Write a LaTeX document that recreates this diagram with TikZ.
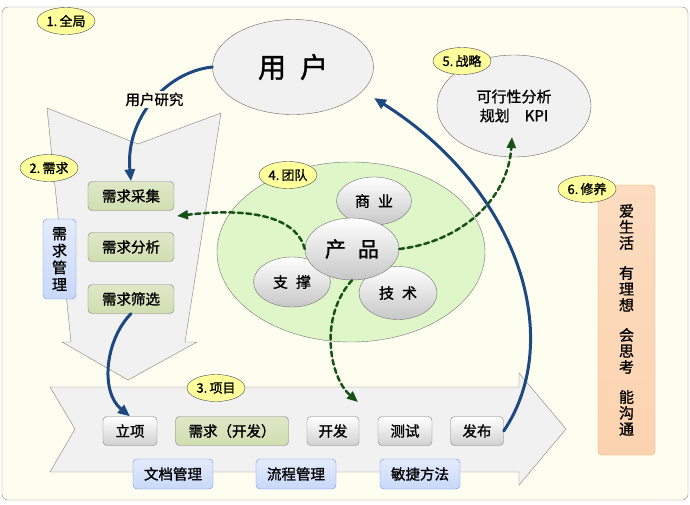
\documentclass[tikz,border=0pt]{standalone}
\usepackage{fontspec}
\setmainfont{Noto Sans CJK SC}[FakeBold=1.2]
\usetikzlibrary{arrows.meta,shapes.geometric,positioning}
\definecolor{panelcream}{RGB}{254,254,240}
\definecolor{panelgray}{RGB}{241,241,241}
\definecolor{flowblue}{RGB}{30,72,128}
\definecolor{teamgreen}{RGB}{22,82,22}
\definecolor{tagyellow}{RGB}{255,255,155}
\definecolor{boxgreen}{RGB}{208,222,176}
\definecolor{boxblue}{RGB}{200,216,250}
\definecolor{edgeblue}{RGB}{110,145,220}
\definecolor{boxorange}{RGB}{252,211,176}
\definecolor{edgeorange}{RGB}{240,160,100}
\definecolor{circlegreen}{RGB}{222,246,200}

\begin{document}
\begin{tikzpicture}[x=1pt,y=-1pt,line cap=round,line join=round,
 tag/.style={ellipse,draw=black!70,fill=tagyellow,minimum width=58pt,
  minimum height=27pt,inner sep=0pt,font=\fontsize{13}{15}\selectfont},
 graybox/.style={rectangle,rounded corners=4pt,draw=black!50,top color=white,
  bottom color=black!18,minimum height=29pt,inner sep=0pt,
  font=\fontsize{14.5}{16}\selectfont},
 greenbox/.style={graybox,top color=boxgreen!70!white,bottom color=boxgreen},
 bluebox/.style={graybox,draw=edgeblue,top color=boxblue!50,bottom color=boxblue,
  minimum width=80pt,minimum height=30pt},
 blob/.style={ellipse,draw=black!55,top color=white,bottom color=black!22,
  inner sep=0pt,font=\fontsize{15}{17}\selectfont},
 flow/.style={flowblue,line width=3pt,-{Triangle[length=12pt,width=10pt]}},
 teamlink/.style={teamgreen,line width=2.5pt,dash pattern=on 5pt off 3.5pt,
  -{Triangle[length=11pt,width=9pt]}}]
 \useasboundingbox (0,0) rectangle (690,504);
 \filldraw[rounded corners=6pt,fill=panelcream,draw=black!45] (2,7) rectangle (688,500);
 \filldraw[fill=panelgray,draw=black!50]
  (47,108)--(138,144)--(221,113)--(185,342)--(197,342)--(128,380)
  --(62,342)--(71,342)--cycle;
 \filldraw[fill=panelgray,draw=black!50]
  (50,387)--(519,387)--(519,373)--(566,429)--(519,485)--(519,472)
  --(50,472)--(75,429)--cycle;
 \node[ellipse,draw=black!55,fill=circlegreen,minimum width=268pt,
  minimum height=180pt] (team) at (351,252) {};

 \node[ellipse,draw=black!60,fill=panelgray,minimum width=161pt,minimum height=95pt,
  font=\fontsize{28}{30}\selectfont] (user) at (293,67) {用\hspace{14pt}户};
 \node[ellipse,draw=black!60,fill=panelgray,minimum width=154pt,minimum height=102pt,
  align=center,font=\fontsize{15}{19}\selectfont] (strategy) at (514,106)
  {可行性分析\\规划\hspace{1em}KPI};

 \node[greenbox,minimum width=86pt] (caiji) at (131,196) {需求采集};
 \node[greenbox,minimum width=86pt] (fenxi) at (131,247) {需求分析};
 \node[greenbox,minimum width=86pt] (shaixuan) at (131,299) {需求筛选};
 \node[bluebox,minimum width=33pt,minimum height=80pt,align=center,
  font=\fontsize{15}{17}\selectfont] (guanli) at (59.5,259) {需\\求\\管\\理};

 \node[blob,minimum width=75pt,minimum height=48pt] (shangye) at (374,201) {商\hspace{8pt}业};
 \node[blob,minimum width=77pt,minimum height=50pt] (zhicheng) at (292,282) {支\hspace{8pt}撑};
 \node[blob,minimum width=78pt,minimum height=53pt] (jishu) at (398,293) {技\hspace{8pt}术};
 \node[blob,minimum width=94pt,minimum height=62pt,
  font=\fontsize{21}{23}\selectfont] (chanpin) at (352,249) {产\hspace{12pt}品};

 \node[graybox,minimum width=54pt] (lixiang) at (130,431) {立项};
 \node[greenbox,minimum width=113pt] (xuqiu) at (232,431) {需求（开发）};
 \node[graybox,minimum width=52pt] (kaifa) at (333,431) {开发};
 \node[graybox,minimum width=54pt] (ceshi) at (405,431) {测试};
 \node[graybox,minimum width=53pt] (fabu) at (477,431) {发布};
 \node[bluebox] (wendang) at (173,474) {文档管理};
 \node[bluebox] (liucheng) at (296,474) {流程管理};
 \node[bluebox] (minjie) at (420,474) {敏捷方法};

 \node[graybox,draw=edgeorange,top color=boxorange!80,bottom color=boxorange,
  minimum width=57pt,minimum height=270pt,align=center,
  font=\fontsize{15}{16}\selectfont] (xiuyang) at (626.5,320)
  {爱\\生\\活\\[14pt]有\\理\\想\\[14pt]会\\思\\考\\[14pt]能\\沟\\通};

 \node[tag] (quanju) at (66,21) {1.\,全局};
 \node[tag] (xqtag) at (49,168) {2.\,需求};
 \node[tag] (xmtag) at (216,388) {3.\,项目};
 \node[tag] (tdtag) at (288,175) {4.\,团队};
 \node[tag] (zltag) at (462,61) {5.\,战略};
 \node[tag] (xytag) at (587,189) {6.\,修养};

 \coordinate (caijitip) at (177,216);
 \coordinate (strategytip) at (512,137);
 \coordinate (projecttip) at (358,402);
 \coordinate (usertip) at (374,98);
 \draw[teamlink] (chanpin.west) .. controls (298,222) and (262,206) .. (caijitip);
 \draw[teamlink] (chanpin.east) .. controls (460,242) and (508,200) .. (strategytip);
 \draw[teamlink] (chanpin.south) .. controls (318,318) and (330,378) .. (projecttip);

 \draw[flow] (user.west) .. controls (165,72) and (125,120) .. (caiji.north)
  node[pos=0.47,fill=panelcream,text=black,inner sep=2pt,
  font=\fontsize{14.5}{16}\selectfont] (yanjiu) {用户研究};
 \draw[flow] (shaixuan.south) .. controls (105,340) and (100,392) .. (lixiang.north);
 \draw[flow] (fabu.east) .. controls (565,340) and (520,190) .. (usertip);
\end{tikzpicture}
\end{document}
